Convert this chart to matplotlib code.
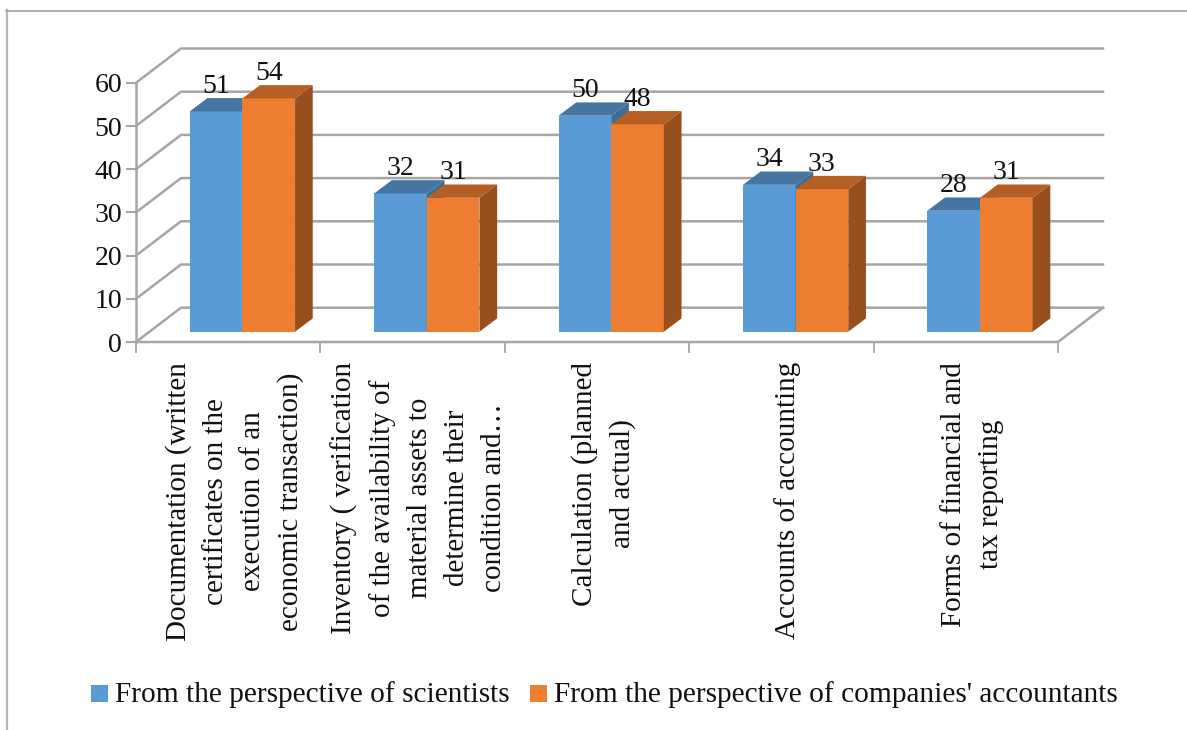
import matplotlib
matplotlib.use('Agg')
import matplotlib.pyplot as plt
from matplotlib.patches import Rectangle

W, H = 1187, 730

categories = [
    'Documentation (written\ncertificates on the\nexecution of an\neconomic transaction)',
    'Inventory ( verification\nof the availability of\nmaterial assets to\ndetermine their\ncondition and…',
    'Calculation (planned\nand actual)',
    'Accounts of accounting',
    'Forms of financial and\ntax reporting',
]
scientists = [51, 32, 50, 34, 28]
accountants = [54, 31, 48, 33, 31]
y_ticks = [0, 10, 20, 30, 40, 50, 60]
series_names = ['From the perspective of scientists',
                "From the perspective of companies' accountants"]

BLUE = ['#5b9bd5', '#4575a1', '#3f6d96']
ORANGE = ['#ed7d31', '#b55f25', '#97501d']
GRID = '#a6a6a6'
TEXT = '#111111'
FONT = 'Liberation Serif'

# oblique depth of the chart box and of the bars, in axis units
BOX_DX, BOX_DY = 0.244, 7.94
FLOOR_DX, FLOOR_DY = 0.077, 2.38
BAR_W = 0.2855
BAR_DX, BAR_DY = 0.096, 3.08

fig = plt.figure(figsize=(W / 100, H / 100), dpi=100)

# page frame around the chart
bg = fig.add_axes([0, 0, 1, 1])
bg.set_xlim(0, W)
bg.set_ylim(H, 0)
bg.axis('off')
bg.plot([6.5, 6.5], [H, 10], color='#b4b4b4', lw=1.6)
bg.plot([6, W], [10.5, 10.5], color='#999999', lw=1.1)

ax = fig.add_axes([136 / W, 1 - 342 / H, 922 / W, 259.2 / H])
ax.set_xlim(0, 5)
ax.set_ylim(0, 60)
ax.axis('off')

# walls: side slants, back lines, value ticks
for v in y_ticks:
    ax.plot([0, BOX_DX, 5 + BOX_DX], [v, v + BOX_DY, v + BOX_DY],
            color=GRID, lw=1.8, clip_on=False, zorder=1)
    ax.plot([-0.05, 0], [v, v], color=GRID, lw=1.5, clip_on=False, zorder=1)
    ax.annotate(str(v), (0, v), xytext=(-14, -3), textcoords='offset pixels', ha='right',
                va='center', fontsize=20, family=FONT, color=TEXT, annotation_clip=False)
ax.plot([0, 0], [0, 60], color=GRID, lw=1.8, clip_on=False, zorder=1)
ax.plot([0, 5, 5 + BOX_DX], [0, 0, BOX_DY], color=GRID, lw=1.8, clip_on=False, zorder=1)
for i in range(6):
    ax.plot([i, i], [0, -2.3], color=GRID, lw=1.3, clip_on=False, zorder=1)


def draw_bar(x, value, colors, z):
    base = FLOOR_DY
    top = base + value
    ax.bar(x, value, BAR_W, bottom=base, align='edge', color=colors[0], zorder=z)
    ax.fill([x, x + BAR_W, x + BAR_W + BAR_DX, x + BAR_DX],
            [top, top, top + BAR_DY, top + BAR_DY], color=colors[1], lw=0, zorder=z)
    ax.fill([x + BAR_W, x + BAR_W + BAR_DX, x + BAR_W + BAR_DX, x + BAR_W],
            [base, base + BAR_DY, top + BAR_DY, top], color=colors[2], lw=0, zorder=z)


for i in range(len(categories)):
    x0 = i + 0.5 + FLOOR_DX - BAR_W
    draw_bar(x0, scientists[i], BLUE, 3)
    draw_bar(x0 + BAR_W, accountants[i], ORANGE, 4)
    ax.text(x0 + BAR_W / 2, scientists[i] + FLOOR_DY + BAR_DY + 1.2, str(scientists[i]),
            ha='center', va='baseline', fontsize=20, family=FONT, color=TEXT, zorder=6)
    ax.text(x0 + 1.5 * BAR_W, accountants[i] + FLOOR_DY + BAR_DY + 1.2, str(accountants[i]),
            ha='center', va='baseline', fontsize=20, family=FONT, color=TEXT, zorder=6)
    # rotated category labels hang from just under the floor
    ax.annotate(categories[i], (i + 0.5, 0), xytext=(6.5, -20), textcoords='offset pixels',
                rotation=90, ha='center', va='top', ma='center', fontsize=21, family=FONT,
                color=TEXT, linespacing=1.55, annotation_clip=False)

# legend
bg.add_patch(Rectangle((91, 685), 17, 17, color=BLUE[0], lw=0))
bg.text(115, 702, series_names[0], ha='left', va='baseline', fontsize=21.2, family=FONT, color=TEXT)
bg.add_patch(Rectangle((530, 685), 17, 17, color=ORANGE[0], lw=0))
bg.text(554, 702, series_names[1], ha='left', va='baseline', fontsize=21.2, family=FONT, color=TEXT)

fig.savefig('out.png', dpi=100)
